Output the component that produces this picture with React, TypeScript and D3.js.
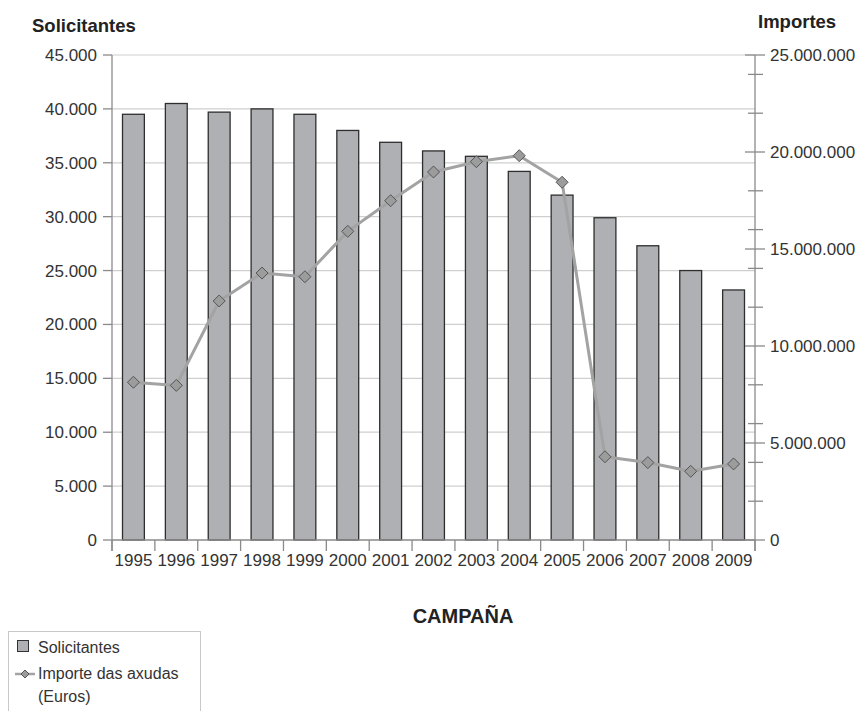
import * as d3 from "d3";

const YEARS = ["1995", "1996", "1997", "1998", "1999", "2000", "2001", "2002", "2003", "2004", "2005", "2006", "2007", "2008", "2009"];
const SOLICITANTES = [39500, 40500, 39700, 40000, 39500, 38000, 36900, 36100, 35600, 34200, 32000, 29900, 27300, 25000, 23200];
const IMPORTES = [8130000, 7970000, 12320000, 13760000, 13570000, 15910000, 17490000, 18970000, 19500000, 19810000, 18440000, 4290000, 3990000, 3540000, 3920000];
const LEFT_MAX = 45000;
const RIGHT_MAX = 25000000;

const FONT = "'Liberation Sans', Arial, Helvetica, sans-serif";
const BAR_FILL = "#afb0b4";
const LINE_COLOR = "#a3a3a3";

const fmt = d3.formatLocale({ decimal: ",", thousands: ".", grouping: [3], currency: ["", ""] }).format(",");

function Diamond({ cx, cy, r }: { cx: number; cy: number; r: number }) {
  return (
    <path
      d={`M${cx},${cy - r}L${cx + r},${cy}L${cx},${cy + r}L${cx - r},${cy}Z`}
      fill="#9c9c9c"
      stroke="#555"
      strokeWidth={1}
    />
  );
}

export default function App() {
  const W = 858, H = 711;
  const left = 112, right = 755, top = 55, bottom = 540;

  const xb = d3.scaleBand<string>().domain(YEARS).range([left, right]);
  const x = xb.copy().paddingInner(0.49).paddingOuter(0.245);
  const yL = d3.scaleLinear().domain([0, LEFT_MAX]).range([bottom, top]);
  const yR = d3.scaleLinear().domain([0, RIGHT_MAX]).range([bottom, top]);

  const leftTicks = yL.ticks(9);
  const rightMajor = yR.ticks(5);
  const rightMinor = yR.ticks(10).filter(t => !rightMajor.includes(t));

  const cx = (d: string) => x(d)! + x.bandwidth() / 2;
  const line = d3.line<number>()
    .x((_, i) => cx(YEARS[i]))
    .y(d => yR(d));

  const boundaries = [...YEARS.map(d => xb(d)!), right];

  return (
    <svg width={W} height={H} style={{ position: "absolute", left: 0, top: 0, fontFamily: FONT }}>
      <rect width={W} height={H} fill="#fff" />

      {/* grid */}
      {leftTicks.filter(t => t > 0).map(t => (
        <line key={t} x1={left} x2={right} y1={yL(t)} y2={yL(t)} stroke="#cfcfcf" strokeWidth={1.2} />
      ))}

      {/* bars */}
      {YEARS.map((d, i) => (
        <rect
          key={d}
          x={x(d)}
          y={yL(SOLICITANTES[i])}
          width={x.bandwidth()}
          height={bottom - yL(SOLICITANTES[i])}
          fill={BAR_FILL}
          stroke="#2e2e2e"
          strokeWidth={1.3}
        />
      ))}

      {/* line */}
      <path d={line(IMPORTES)!} fill="none" stroke={LINE_COLOR} strokeWidth={3} strokeLinejoin="round" />
      {IMPORTES.map((v, i) => (
        <Diamond key={i} cx={cx(YEARS[i])} cy={yR(v)} r={6} />
      ))}

      {/* left axis */}
      <line x1={left} x2={left} y1={top} y2={bottom + 11} stroke="#8a8a8a" strokeWidth={1.3} />
      {leftTicks.map(t => (
        <g key={t}>
          <line x1={left - 9} x2={left} y1={yL(t)} y2={yL(t)} stroke="#8a8a8a" strokeWidth={1.3} />
          <text x={left - 15} y={yL(t)} dy="0.35em" textAnchor="end" fontSize={17} fill="#333">{fmt(t)}</text>
        </g>
      ))}

      {/* right axis */}
      <line x1={right} x2={right} y1={top} y2={bottom + 11} stroke="#8a8a8a" strokeWidth={1.3} />
      {rightMajor.map(t => (
        <g key={t}>
          <line x1={right - 10} x2={right + 10} y1={yR(t)} y2={yR(t)} stroke="#8a8a8a" strokeWidth={1.3} />
          <text x={right + 15} y={yR(t)} dy="0.35em" fontSize={17} fill="#333">{fmt(t)}</text>
        </g>
      ))}
      {rightMinor.map(t => (
        <line key={t} x1={right - 7} x2={right + 8} y1={yR(t)} y2={yR(t)} stroke="#8a8a8a" strokeWidth={1.3} />
      ))}

      {/* x axis */}
      <line x1={left} x2={right} y1={bottom} y2={bottom} stroke="#8a8a8a" strokeWidth={1.3} />
      {boundaries.map((b, i) => (
        <line key={i} x1={b} x2={b} y1={bottom} y2={bottom + 11} stroke="#8a8a8a" strokeWidth={1.3} />
      ))}
      {YEARS.map(d => (
        <text key={d} x={xb(d)! + xb.bandwidth() / 2} y={566} textAnchor="middle" fontSize={17} fill="#333">{d}</text>
      ))}

      {/* titles */}
      <text x={32} y={32} fontSize={18.5} fontWeight="bold" fill="#222">Solicitantes</text>
      <text x={758} y={28} fontSize={18.5} fontWeight="bold" fill="#222">Importes</text>
      <text x={463} y={623} textAnchor="middle" fontSize={20} fontWeight="bold" fill="#222">CAMPAÑA</text>

      {/* legend */}
      <rect x={8.5} y={631.5} width={192} height={100} fill="#fff" stroke="#c8c8c8" strokeWidth={1} />
      <rect x={17.5} y={640.5} width={11} height={11} fill={BAR_FILL} stroke="#333" strokeWidth={1} />
      <text x={38} y={653} fontSize={16} fill="#333">Solicitantes</text>
      <line x1={15} x2={35} y1={674} y2={674} stroke={LINE_COLOR} strokeWidth={2.5} />
      <Diamond cx={25} cy={674} r={4} />
      <text x={38} y={679} fontSize={16} fill="#333">Importe das axudas</text>
      <text x={38} y={702} fontSize={16} fill="#333">(Euros)</text>
    </svg>
  );
}
